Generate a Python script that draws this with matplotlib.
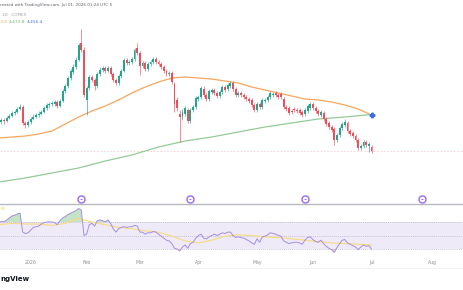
import numpy as np
import pandas as pd
import matplotlib
matplotlib.use("Agg")
import matplotlib.pyplot as plt
from matplotlib.lines import Line2D

# ---------------- data ----------------
holidays = ["2025-12-25", "2026-01-01"]
first_day, last_day = "2025-12-15", "2026-07-01"

opens = [4370,4390,4410,4400,4430,4450,4480,4490,4520,4540,4380,4360,4390,4420,4440,4460,4470,4490,4530,4560,
         4570,4570,4590,4550,4600,4700,4750,4830,4890,4940,5010,5180,5110,4610,4730,4840,4810,4750,4870,4910,
         4930,4900,4930,4870,4810,4780,4850,4900,5010,4980,4990,5020,5130,5080,4950,4980,4920,4970,4990,5020,
         4990,4970,4940,4900,4870,4880,4770,4610,4470,4440,4470,4510,4400,4510,4540,4620,4640,4720,4660,4620,
         4690,4710,4680,4650,4690,4740,4720,4750,4780,4720,4660,4680,4660,4640,4620,4610,4560,4510,4570,4540,
         4600,4610,4640,4660,4680,4660,4670,4620,4540,4530,4500,4520,4510,4510,4490,4470,4500,4530,4570,4530,
         4500,4460,4480,4420,4380,4340,4320,4210,4260,4330,4360,4380,4300,4280,4250,4210,4130,4150,4190,4150,
         4140]
closes = [4390,4410,4400,4430,4450,4480,4490,4520,4540,4380,4360,4390,4420,4440,4460,4470,4490,4530,4560,4570,
          4580,4590,4550,4600,4700,4750,4830,4900,4940,5010,5160,5110,4660,4730,4840,4810,4750,4870,4910,4930,
          4900,4930,4870,4810,4780,4850,4900,5010,4980,4990,5020,5110,5080,4950,4980,4920,4970,4990,5020,4990,
          4970,4940,4900,4870,4880,4790,4570,4530,4440,4490,4530,4400,4510,4540,4630,4640,4730,4660,4620,4700,
          4710,4680,4650,4690,4740,4710,4760,4780,4720,4660,4680,4660,4640,4620,4600,4560,4510,4570,4540,4610,
          4610,4640,4680,4670,4660,4640,4640,4540,4520,4480,4490,4510,4500,4480,4460,4510,4550,4570,4530,4500,
          4470,4490,4420,4370,4340,4310,4210,4260,4330,4370,4390,4300,4270,4250,4210,4130,4150,4190,4160,4170,
          4100]
highs = [4410,4430,4430,4450,4470,4500,4510,4540,4570,4560,4400,4410,4440,4470,4480,4500,4510,4550,4580,4590,
         4600,4610,4610,4620,4720,4770,4850,4920,4970,5040,5180,5320,5140,4750,4860,4860,4830,4890,4940,4950,
         4950,4950,4950,4890,4830,4870,4920,5030,5030,5010,5040,5130,5180,5100,5000,5000,4990,5010,5040,5040,
         5010,4990,4960,4920,4900,4900,4790,4640,4510,4520,4550,4530,4530,4560,4650,4660,4750,4750,4680,4720,
         4730,4730,4700,4710,4760,4760,4780,4800,4800,4740,4700,4700,4680,4660,4640,4630,4580,4590,4590,4630,
         4630,4660,4700,4690,4700,4680,4690,4640,4560,4550,4520,4540,4530,4530,4510,4530,4570,4590,4590,4550,
         4520,4510,4500,4440,4400,4360,4340,4280,4350,4390,4420,4400,4320,4300,4270,4230,4170,4210,4210,4190,
         4160]
lows = [4350,4370,4370,4390,4420,4440,4460,4480,4510,4360,4330,4340,4370,4410,4430,4440,4460,4480,4510,4530,
        4550,4550,4530,4540,4590,4680,4730,4810,4870,4920,5000,5090,4640,4460,4710,4790,4710,4730,4850,4890,
        4880,4890,4850,4790,4760,4760,4830,4890,4960,4960,4970,5000,5060,4860,4930,4900,4900,4950,4970,4970,
        4950,4920,4880,4850,4850,4770,4490,4500,4190,4410,4450,4380,4380,4490,4520,4600,4620,4640,4600,4600,
        4670,4660,4630,4630,4670,4690,4700,4730,4700,4640,4640,4640,4620,4600,4580,4540,4490,4490,4520,4520,
        4580,4590,4620,4640,4640,4620,4620,4520,4500,4460,4470,4490,4480,4460,4440,4450,4480,4510,4510,4480,
        4450,4440,4400,4350,4320,4290,4160,4190,4240,4310,4340,4280,4250,4230,4190,4110,4110,4130,4140,4090,
        4080]

ma50_dates = ["2025-12-15","2025-12-22","2025-12-30","2026-01-07","2026-01-14","2026-01-21","2026-01-28",
              "2026-02-04","2026-02-11","2026-02-18","2026-02-25","2026-03-04","2026-03-11","2026-03-18",
              "2026-03-25","2026-04-01","2026-04-08","2026-04-15","2026-04-22","2026-04-29","2026-05-06",
              "2026-05-13","2026-05-20","2026-05-27","2026-06-03","2026-06-10","2026-06-17","2026-06-24","2026-07-01"]
ma50 = [4230,4240,4250,4270,4300,4370,4440,4500,4550,4610,4680,4740,4790,4830,4840,4830,4820,4800,4780,4740,
        4710,4680,4650,4620,4610,4590,4560,4520,4460]

ma200_dates = ["2025-12-15","2025-12-30","2026-01-14","2026-01-28","2026-02-11","2026-02-25","2026-03-11",
               "2026-03-25","2026-04-08","2026-04-22","2026-05-06","2026-05-20","2026-06-03","2026-06-17","2026-07-01"]
ma200 = [3790,3830,3880,3930,4000,4060,4140,4200,4240,4290,4340,4380,4420,4440,4465]

# legend values as they are visible in the (cropped) header
legend_values = ["5.4", "4,472.8", "4,456.4"]
blue_value = 4456.4

rsi = [69,71,70,73,76,79,80,82,83,55,53,54,58,62,63,64,67,69,70,70,
       70,69,66,72,76,78,81,83,85,87,90,88,50,52,66,68,64,72,73,72,
       70,73,68,60,55,60,62,63,62,63,63,65,64,55,55,52,54,54,56,55,
       52,49,46,43,42,38,31,30,27,33,36,31,38,40,46,50,52,46,45,48,
       50,52,50,52,54,53,55,55,50,47,48,47,46,44,42,39,37,45,40,48,
       49,51,54,53,52,50,49,42,40,38,39,40,40,39,37,43,47,48,44,41,
       40,43,38,34,31,29,25,32,38,43,44,39,37,35,33,29,33,36,34,35,
       30]
rsi_ma_dates = ma50_dates
rsi_ma = [66,68,67,67,65,68,75,70,66,62,60,57,55,49,42,39,43,49,51,50,48,47,45,43,41,39,38,37,36]

event_dates = ["2026-01-29", "2026-03-27", "2026-05-27", "2026-07-28"]
month_ticks = ["2026-01-02","2026-02-02","2026-03-02","2026-04-01","2026-05-01","2026-06-01","2026-07-01","2026-08-03"]
month_labels = ["2026","Feb","Mar","Apr","May","Jun","Jul","Aug"]

# visible (cropped) header / footer texts
header_text = "reated with TradingView.com, Jul 01, 2026 01:24 UTC 5"
symbol_text = "1D · COMEX"
rsi_text = "W"
logo_text = "ngView"

# ---------------- index ----------------
bars = pd.bdate_range(first_day, last_day)
bars = bars[~bars.isin(pd.to_datetime(holidays))]
future = pd.bdate_range("2026-07-02", "2026-09-30")
all_dates = bars.append(future)
pos = {d: i for i, d in enumerate(all_dates)}
def P(ds):
    return np.array([pos[pd.Timestamp(d)] for d in ds], dtype=float)

n = len(bars)
assert len(opens) == len(closes) == len(highs) == len(lows) == len(rsi) == n
x = np.arange(n)

W, H = 464, 290
fig = plt.figure(figsize=(W/100, H/100), dpi=100)
fig.patch.set_facecolor("white")

XL = (0.47, 174.74)
UP, DN = "#22A68F", "#F04E5A"

# ---------------- main pane ----------------
main_bot = 203
ax = fig.add_axes([0, 1 - main_bot/H, 1, main_bot/H])
ax.set_xlim(*XL)
ax.set_ylim(3580, 5610)
ax.axis("off")

o = np.array(opens, float); c = np.array(closes, float)
hi = np.array(highs, float); lo = np.array(lows, float)
col = np.where(c >= o, UP, DN)
ax.vlines(x, lo, hi, colors=col, lw=0.6, alpha=0.75, zorder=3)
body = np.maximum(np.abs(c - o), 6)
ax.bar(x, body, bottom=np.minimum(o, c), width=0.72, color=col, lw=0, zorder=4)

ax.plot(P(ma50_dates), ma50, color="#F7A660", lw=0.9, zorder=2)
ax.plot(P(ma200_dates), ma200, color="#93CB96", lw=0.9, zorder=2)
ax.axhline(closes[-1], color="#F8CDD2", lw=0.6, ls=(0, (2, 2)), zorder=1)
ax.plot([n - 1], [blue_value], marker="P", ms=3.3, color="#3D6BF2", mec="#3D6BF2", zorder=6)

tr = ax.get_xaxis_transform()
ev = P(event_dates)
ax.scatter(ev, [4/main_bot]*len(ev), s=26, facecolors="white", edgecolors="#9C6DEB", lw=1.0,
           transform=tr, zorder=6, clip_on=False)
ax.scatter(ev, [4/main_bot]*len(ev), s=3, marker="_", color="#9C6DEB", lw=0.7,
           transform=tr, zorder=7, clip_on=False)

fig.add_artist(Line2D([0, 1], [1 - 203.7/H]*2, color="#B8BAC2", lw=1.0))

# ---------------- RSI pane ----------------
r_top, r_bot = 204, 256
axr = fig.add_axes([0, 1 - r_bot/H, 1, (r_bot - r_top)/H])
axr.set_xlim(*XL)
k = 40/27
axr.set_ylim(30 - (r_bot - 249)*k, 70 + (222 - r_top)*k)
for s in axr.spines.values():
    s.set_visible(False)
axr.axhspan(30, 70, color="#EFEAF8", lw=0, zorder=0)
for lv in (30, 50, 70):
    axr.axhline(lv, color="#B9B3C9", lw=0.5, ls=(0, (1.5, 1.5)), zorder=1)
r = np.array(rsi, float)
axr.fill_between(x, 70, r, where=r > 70, interpolate=True, color="#7CC47F", alpha=0.45, lw=0, zorder=2)
axr.fill_between(x, 30, r, where=r < 30, interpolate=True, color="#F28B93", alpha=0.45, lw=0, zorder=2)
axr.plot(P(rsi_ma_dates), rsi_ma, color="#F7DC7C", lw=0.8, zorder=3)
axr.plot(x, r, color="#A58FE0", lw=0.7, zorder=4)

axr.set_yticks([])
axr.set_xticks(P(month_ticks))
axr.set_xticklabels(month_labels)
axr.tick_params(axis="x", length=0, pad=3.0, labelsize=3.3, colors="#8A8D96")

fig.add_artist(Line2D([0, 1], [1 - 267.5/H]*2, color="#F0F1F4", lw=0.6))

# ---------------- texts ----------------
fig.text(0.5/W, 1 - 5/H, header_text, ha="left", va="center", fontsize=2.95, color="#5E616B")
fig.text(2/W, 1 - 15/H, symbol_text, ha="left", va="center", fontsize=3.0, color="#9A9DA6")
fig.text(0.5/W, 1 - 22/H, legend_values[0], ha="left", va="center", fontsize=3.1, color="#F7A660")
fig.text(9/W, 1 - 22/H, legend_values[1], ha="left", va="center", fontsize=3.1, color="#6DBA70")
fig.text(27/W, 1 - 22/H, legend_values[2], ha="left", va="center", fontsize=3.1, color="#4A76F0")
fig.text(0.5/W, 1 - 209/H, rsi_text, ha="left", va="center", fontsize=3.0, color="#F2CF4A")
fig.text(0.5/W, 1 - 279/H, logo_text, ha="left", va="center", fontsize=5.0,
         fontweight="bold", color="#131722")

fig.savefig("out.png", dpi=100, facecolor="white")
